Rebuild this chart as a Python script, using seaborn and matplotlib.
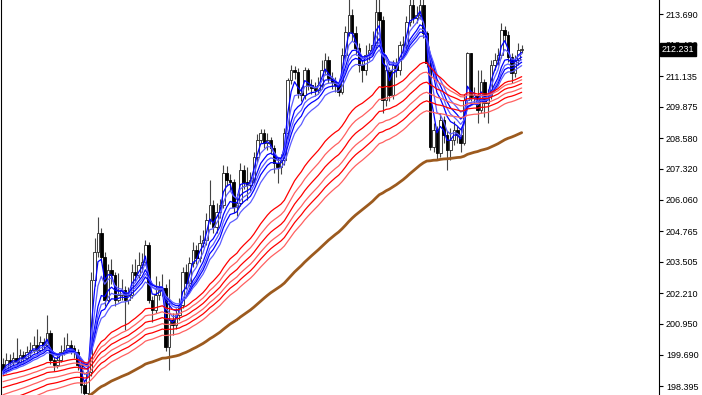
import numpy as np
import pandas as pd
import matplotlib
matplotlib.use("Agg")
import matplotlib.pyplot as plt
import matplotlib.transforms as mtransforms
import seaborn as sns

# ---------------- data ----------------
first_open = 199.30
close = [199.05, 199.47, 199.38, 199.55, 199.38, 199.67, 199.55, 199.79, 199.87, 200.08,
         199.87, 200.20, 200.08, 200.57, 199.47, 199.26, 199.47, 199.79, 199.87, 200.08,
         199.96, 199.79, 199.26, 198.44, 198.11, 198.97, 202.75, 203.90, 204.68, 203.70,
         201.93, 203.17, 202.96, 201.93, 202.14, 202.34, 201.93, 202.14, 203.08, 202.96,
         203.37, 203.49, 204.19, 201.93, 201.52, 202.14, 202.34, 202.42, 200.00, 201.11,
         200.90, 201.31, 201.73, 203.08, 202.63, 203.45, 203.99, 203.66, 204.27, 204.40,
         205.22, 205.84, 204.93, 205.55, 205.84, 207.15, 206.87, 206.78, 205.75, 205.92,
         207.28, 206.78, 206.66, 206.87, 207.81, 208.51, 208.80, 208.39, 208.51, 208.18,
         207.56, 207.40, 207.69, 208.80, 210.98, 211.39, 211.31, 210.44, 210.36, 211.39,
         210.77, 210.65, 210.56, 210.77, 211.39, 211.80, 211.06, 210.90, 210.77, 210.48,
         212.00, 212.95, 213.65, 212.91, 212.29, 211.59, 211.39, 212.00, 212.21, 212.42,
         213.77, 213.44, 210.15, 211.39, 210.36, 211.59, 211.39, 212.42, 212.42, 213.36,
         214.06, 213.53, 213.65, 214.06, 212.91, 211.68, 208.22, 208.92, 207.97, 209.33,
         208.72, 208.10, 208.51, 208.92, 208.72, 208.39, 210.15, 212.09, 210.28, 210.36,
         209.74, 210.90, 210.03, 210.36, 211.59, 211.80, 212.00, 213.03, 212.83, 211.92,
         211.26, 211.80, 212.21, 212.231]
high = [199.55, 199.75, 199.70, 199.80, 200.36, 199.90, 199.85, 200.05, 200.20, 200.45,
        200.74, 200.45, 200.35, 201.31, 200.70, 199.60, 199.70, 200.10, 200.40, 200.57,
        200.30, 200.10, 199.90, 199.35, 198.60, 199.20, 203.10, 204.50, 205.34, 204.90,
        203.90, 203.40, 203.60, 203.10, 203.05, 202.80, 202.50, 202.45, 203.40, 203.60,
        203.90, 203.85, 204.40, 204.30, 202.10, 202.90, 202.70, 203.00, 202.60, 202.80,
        201.40, 201.60, 202.00, 203.30, 203.40, 203.70, 204.30, 204.20, 204.60, 204.80,
        205.50, 206.87, 206.04, 205.90, 206.10, 207.48, 207.45, 207.10, 206.90, 206.30,
        207.55, 207.50, 207.40, 207.20, 208.00, 208.75, 208.96, 208.95, 208.80, 208.65,
        208.30, 207.80, 207.95, 209.00, 211.06, 211.60, 211.55, 211.45, 210.70, 211.51,
        211.45, 211.00, 210.90, 211.10, 211.80, 212.10, 211.95, 211.30, 211.10, 210.95,
        212.30, 213.20, 214.40, 213.90, 213.20, 212.50, 211.80, 212.40, 212.50, 213.00,
        214.40, 214.40, 213.60, 211.60, 211.50, 211.80, 211.90, 212.60, 212.80, 213.60,
        214.40, 214.40, 214.00, 214.40, 214.40, 213.00, 211.80, 209.20, 209.10, 209.60,
        209.50, 208.90, 209.00, 209.30, 209.10, 209.00, 210.40, 212.13, 212.10, 210.70,
        211.39, 211.39, 211.00, 210.60, 211.80, 212.10, 212.30, 213.32, 213.20, 213.00,
        212.10, 212.00, 212.50, 212.40]
low = [198.85, 198.95, 199.15, 199.25, 199.26, 199.30, 199.35, 199.45, 199.60, 199.75,
       199.70, 199.80, 199.90, 200.00, 199.30, 199.00, 199.15, 199.40, 199.65, 199.75,
       199.70, 199.55, 199.05, 198.10, 197.70, 197.95, 198.80, 202.50, 203.70, 203.50,
       201.70, 201.80, 202.60, 201.70, 201.85, 201.95, 200.70, 201.75, 202.00, 202.70,
       202.85, 203.10, 203.35, 201.80, 201.03, 201.40, 201.95, 202.10, 199.85, 199.05,
       200.50, 200.75, 201.10, 201.60, 202.40, 202.50, 203.30, 203.40, 203.50, 204.10,
       204.20, 205.05, 204.70, 204.70, 205.30, 205.70, 206.60, 206.40, 205.50, 205.40,
       205.80, 206.50, 206.04, 206.40, 206.70, 207.60, 208.40, 208.20, 208.10, 207.95,
       207.15, 206.74, 207.10, 207.50, 208.60, 210.80, 211.00, 210.25, 210.10, 210.20,
       210.55, 210.40, 210.30, 210.40, 210.60, 211.20, 210.85, 210.60, 210.50, 210.30,
       210.40, 211.80, 212.80, 212.60, 212.00, 211.30, 210.90, 211.20, 211.80, 212.00,
       212.30, 213.10, 209.62, 209.90, 210.10, 210.20, 211.10, 211.20, 212.10, 212.30,
       213.20, 213.30, 213.30, 213.50, 212.70, 211.50, 208.10, 208.00, 207.69, 207.80,
       208.40, 207.28, 207.69, 208.30, 208.40, 208.00, 208.30, 210.00, 210.10, 210.00,
       209.21, 209.60, 209.45, 209.21, 210.20, 211.40, 211.60, 211.90, 212.50, 211.70,
       210.85, 211.10, 211.60, 212.10]

# moving-average periods and their values just before the first visible bar
fast_periods = [3, 5, 8, 10, 12, 15]
fast_seeds = [199.00, 198.98, 198.95, 198.92, 198.88, 198.85]
slow_periods = [36, 43, 50, 57, 63, 70]
slow_seeds = [198.80, 198.55, 198.30, 198.00, 197.70, 197.40]
trend_period = 110
trend_seed = 197.00

tick_values = [213.690, 212.430, 211.135, 209.875, 208.580, 207.320, 206.060,
               204.765, 203.505, 202.210, 200.950, 199.690, 198.395]
last_price_label = "212.231"

# ---------------- helpers ----------------
def ema(values, period, seed):
    a = 2.0 / (period + 1)
    out, e = [], seed
    for v in values:
        e = e + a * (v - e)
        out.append(e)
    return out

n = len(close)
bars = np.arange(n)
open_ = np.r_[first_open, np.array(close[:-1])]
close_a = np.array(close)
high_a = np.array(high)
low_a = np.array(low)

rows = []
for p, s in zip(fast_periods, fast_seeds):
    for i, v in enumerate(ema(close, p, s)):
        rows.append((i, v, f"EMA{p}"))
for p, s in zip(slow_periods, slow_seeds):
    for i, v in enumerate(ema(close, p, s)):
        rows.append((i, v, f"EMA{p}"))
for i, v in enumerate(ema(close, trend_period, trend_seed)):
    rows.append((i, v, f"EMA{trend_period}"))
df = pd.DataFrame(rows, columns=["bar", "price", "line"])

palette = {}
for k, p in enumerate(fast_periods):
    palette[f"EMA{p}"] = "#0000ff" if k % 2 == 0 else "#5c5cff"
for k, p in enumerate(slow_periods):
    palette[f"EMA{p}"] = "#ff0000" if k % 2 == 0 else "#ff6060"
palette[f"EMA{trend_period}"] = "#9c5a1e"

# ---------------- figure ----------------
sns.set_style("white")
plt.rcParams["font.family"] = ["Liberation Sans", "DejaVu Sans"]

W, H = 702, 395
fig = plt.figure(figsize=(W / 100, H / 100), dpi=100)
ax = fig.add_axes([1 / W, 0, (659 - 1) / W, 1])

bar_px = 3.39
x0_px = 3.0
ax.set_xlim((1 - x0_px) / bar_px, (659 - x0_px) / bar_px)
ax.set_ylim(198.025, 214.266)

# candles
ax.vlines(bars, low_a, high_a, color="#444444", linewidth=0.8, zorder=1)
up = close_a >= open_
body_lo = np.minimum(open_, close_a)
body_h = np.maximum(np.abs(close_a - open_), 0.02)
ax.bar(bars[up], body_h[up], bottom=body_lo[up], width=0.75,
       color="white", edgecolor="#222222", linewidth=0.6, zorder=2)
ax.bar(bars[~up], body_h[~up], bottom=body_lo[~up], width=0.75,
       color="black", edgecolor="black", linewidth=0.6, zorder=2)

# moving averages
lw = {name: 0.9 for name in palette}
lw[f"EMA{trend_period}"] = 2.0
for name in df["line"].unique():
    sub = df[df["line"] == name]
    sns.lineplot(data=sub, x="bar", y="price", ax=ax, color=palette[name],
                 linewidth=lw[name], legend=False, zorder=3, estimator=None)

# axes styling
ax.set_xlabel("")
ax.set_ylabel("")
ax.set_xticks([])
ax.yaxis.tick_right()
ax.set_yticks(tick_values)
ax.set_yticklabels([f"{v:.3f}" for v in tick_values])
ax.tick_params(axis="y", direction="out", length=3, width=0.8, pad=2,
               labelsize=6.5, colors="black", right=True, left=False)
for side in ["top", "bottom"]:
    ax.spines[side].set_visible(False)
for side in ["left", "right"]:
    ax.spines[side].set_visible(True)
    ax.spines[side].set_color("black")
    ax.spines[side].set_linewidth(0.8)

# last price marker
trans = mtransforms.blended_transform_factory(ax.transAxes, ax.transData)
ax.text(1.004, close[-1], last_price_label, transform=trans, ha="left", va="center",
        fontsize=6.5, color="white",
        bbox=dict(boxstyle="square,pad=0.18", facecolor="black", edgecolor="black"),
        clip_on=False, zorder=5)

fig.savefig("out.png", dpi=100)
